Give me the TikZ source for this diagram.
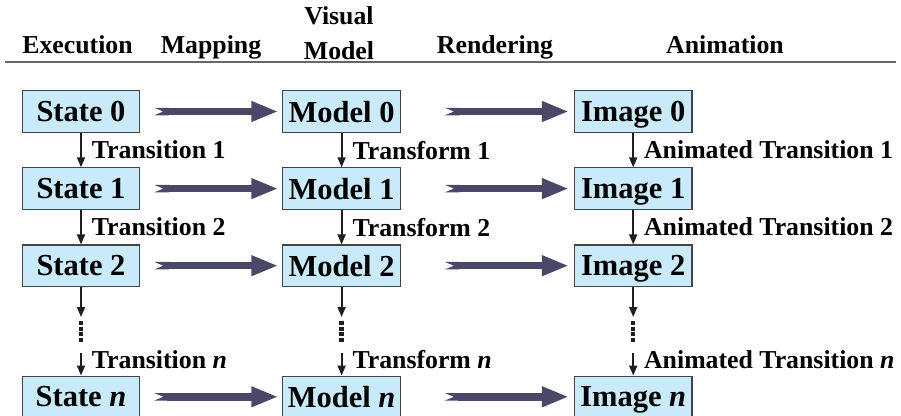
\documentclass[tikz,border=0pt]{standalone}
\usepackage{fontspec}
\setmainfont{Liberation Serif}
\usetikzlibrary{arrows.meta,positioning}
\definecolor{boxfill}{HTML}{C8EAF9}
\definecolor{boxline}{HTML}{444444}
\definecolor{fatblue}{HTML}{4A4868}
\definecolor{rulegray}{HTML}{666666}

\begin{document}
\begin{tikzpicture}[
			x=1pt, y=-1pt,
			node distance=34.5pt and 142pt,
			box/.style={draw=boxline, fill=boxfill, line width=1.1pt, minimum width=117.5pt, minimum height=41.5pt, inner sep=0pt, text depth=0pt, font=\fontsize{30.5}{36}\selectfont\bfseries},
			lbl/.style={right, inner sep=0pt, xshift=10pt, font=\fontsize{25.8}{30}\selectfont\bfseries},
			hdr/.style={inner sep=0pt, font=\fontsize{25.8}{35}\selectfont\bfseries},
			varr/.style={-{Triangle[length=10pt,width=8pt]}, line width=1.8pt, draw=black!88},
			fat/.style={{Triangle Cap[reversed,length=9pt]}-{Triangle[length=27pt,width=19pt]}, line width=7.5pt, draw=fatblue},
			dots/.style={line width=4.5pt, dash pattern=on 4pt off 1.6pt, draw=black!88}
			]
			\useasboundingbox (0,0) rectangle (901,415);
			
			% headers
			\node[hdr, anchor=base] (hexec) at (77.5,53) {Execution};
			\node[hdr, anchor=base] (hmap) at (211,53) {Mapping};
			\node[hdr, anchor=south, align=center] (hvis) at (339,60) {Visual\\Model};
			\node[hdr, anchor=base] (hrend) at (495,53) {Rendering};
			\node[hdr, anchor=base] (hanim) at (725,53) {Animation};
			\draw[rulegray, line width=1.3pt] (5,62) -- (896,62);
			
			% execution column
			\node[box] (s0) at (81,111.5) {State 0};
			\node[box, below=of s0] (s1) {State 1};
			\node[box, below=of s1] (s2) {State 2};
			\node[box, below=88.5pt of s2] (sn) {State \textit{n}};
			
			% visual model column
			\node[box, right=of s0] (m0) {Model 0};
			\node[box, right=of s1] (m1) {Model 1};
			\node[box, right=of s2] (m2) {Model 2};
			\node[box, right=of sn] (mn) {Model \textit{n}};
			
			% animation column
			\node[box, right=173pt of m0] (i0) {Image 0};
			\node[box, right=173pt of m1] (i1) {Image 1};
			\node[box, right=173pt of m2] (i2) {Image 2};
			\node[box, right=173pt of mn] (in) {Image \textit{n}};
			
			% mapping and rendering
			\draw[fat, shorten <=14pt, shorten >=4pt] (s0) -- (m0);
			\draw[fat, shorten <=14pt, shorten >=4pt] (s1) -- (m1);
			\draw[fat, shorten <=14pt, shorten >=4pt] (s2) -- (m2);
			\draw[fat, shorten <=14pt, shorten >=4pt] (sn) -- (mn);
			\draw[fat, shorten <=44pt, shorten >=5pt] (m0) -- (i0);
			\draw[fat, shorten <=44pt, shorten >=5pt] (m1) -- (i1);
			\draw[fat, shorten <=44pt, shorten >=5pt] (m2) -- (i2);
			\draw[fat, shorten <=44pt, shorten >=5pt] (mn) -- (in);
			
			% transitions
			\draw[varr] (s0) -- node[lbl] {Transition 1} (s1);
			\draw[varr] (s1) -- node[lbl] {Transition 2} (s2);
			\coordinate[below=30pt of s2.south] (s2end);
			\coordinate[below=4pt of s2end] (s2dot);
			\coordinate[below=24.5pt of s2end] (s2gap);
			\coordinate[below=35.5pt of s2end] (snbeg);
			\draw[varr] (s2) -- (s2end);
			\draw[dots] (s2dot) -- (s2gap);
			\draw[varr] (snbeg) -- node[lbl, yshift=4pt] {Transition \textit{n}} (sn);
			
			\draw[varr] (m0) -- node[lbl] {Transform 1} (m1);
			\draw[varr] (m1) -- node[lbl] {Transform 2} (m2);
			\coordinate[below=30pt of m2.south] (m2end);
			\coordinate[below=4pt of m2end] (m2dot);
			\coordinate[below=24.5pt of m2end] (m2gap);
			\coordinate[below=35.5pt of m2end] (mnbeg);
			\draw[varr] (m2) -- (m2end);
			\draw[dots] (m2dot) -- (m2gap);
			\draw[varr] (mnbeg) -- node[lbl, yshift=4pt] {Transform \textit{n}} (mn);
			
			\draw[varr] (i0) -- node[lbl] {Animated Transition 1} (i1);
			\draw[varr] (i1) -- node[lbl] {Animated Transition 2} (i2);
			\coordinate[below=30pt of i2.south] (i2end);
			\coordinate[below=4pt of i2end] (i2dot);
			\coordinate[below=24.5pt of i2end] (i2gap);
			\coordinate[below=35.5pt of i2end] (inbeg);
			\draw[varr] (i2) -- (i2end);
			\draw[dots] (i2dot) -- (i2gap);
			\draw[varr] (inbeg) -- node[lbl, yshift=4pt] {Animated Transition \textit{n}} (in);
		\end{tikzpicture}
\end{document}
